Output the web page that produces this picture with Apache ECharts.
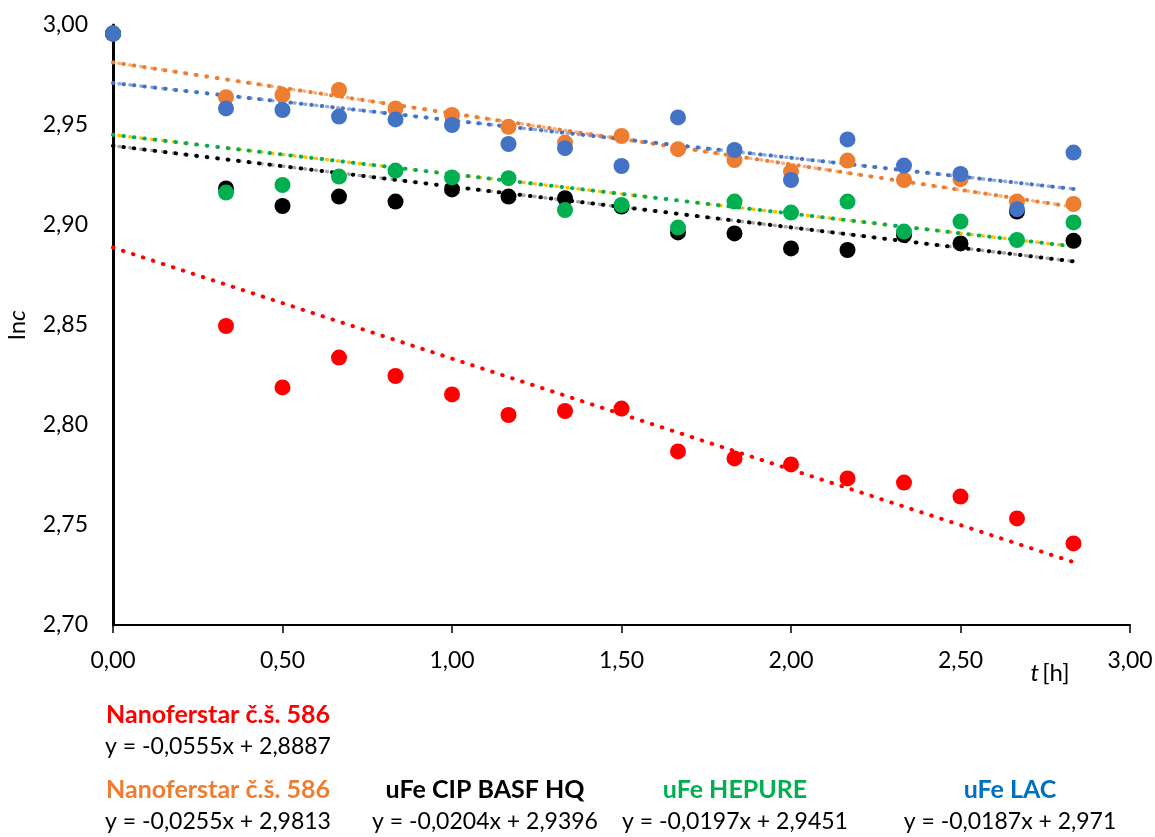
<!DOCTYPE html>
<html>
<head>
<meta charset="utf-8">
<script src="https://cdn.jsdelivr.net/npm/echarts@6/dist/echarts.min.js"></script>
<style>html,body{margin:0;padding:0;background:#fff}#c{width:1155px;height:837px}</style>
</head>
<body>
<div id="c"></div>
<script>
const times = [0, 1/3, 0.5, 2/3, 5/6, 1, 7/6, 4/3, 1.5, 5/3, 11/6, 2, 13/6, 7/3, 2.5, 8/3, 17/6];
const xTicks = ['0,00','0,50','1,00','1,50','2,00','2,50','3,00'];
const yTicks = ['2,70','2,75','2,80','2,85','2,90','2,95','3,00'];

const redVals    = [2.9957, 2.8495, 2.8188, 2.8337, 2.8245, 2.8153, 2.8050, 2.8070, 2.8082, 2.7868, 2.7833, 2.7803, 2.7733, 2.7712, 2.7642, 2.7533, 2.7408];
const orangeVals = [2.9957, 2.9639, 2.9650, 2.9675, 2.9583, 2.9550, 2.9491, 2.9412, 2.9445, 2.9379, 2.9325, 2.9267, 2.9322, 2.9225, 2.9229, 2.9117, 2.9105];
const blackVals  = [2.9957, 2.9183, 2.9095, 2.9142, 2.9117, 2.9178, 2.9142, 2.9134, 2.9092, 2.8963, 2.8958, 2.8883, 2.8875, 2.8950, 2.8908, 2.9067, 2.8921];
const greenVals  = [2.9957, 2.9162, 2.9200, 2.9242, 2.9272, 2.9238, 2.9234, 2.9075, 2.9100, 2.8987, 2.9117, 2.9062, 2.9117, 2.8967, 2.9017, 2.8925, 2.9013];
const blueVals   = [2.9957, 2.9583, 2.9575, 2.9542, 2.9528, 2.9500, 2.9405, 2.9384, 2.9295, 2.9538, 2.9375, 2.9225, 2.9428, 2.9297, 2.9255, 2.9079, 2.9362];

const seriesNames = ['Nanoferstar č.š. 586', 'Nanoferstar č.š. 586', 'uFe CIP BASF HQ', 'uFe HEPURE', 'uFe LAC'];
const slopes      = [-0.0555, -0.0255, -0.0204, -0.0197, -0.0187];
const intercepts  = [2.8887, 2.9813, 2.9396, 2.9451, 2.971];
const eqTexts     = ['y = -0,0555x + 2,8887', 'y = -0,0255x + 2,9813', 'y = -0,0204x + 2,9396', 'y = -0,0197x + 2,9451', 'y = -0,0187x + 2,971'];

const colors = ['#FF0000', '#ED7D31', '#000000', '#00B050', '#4472C4'];
const labelColors = ['#FF0000', '#ED7D31', '#000000', '#00B050', '#0070C0'];
const allVals = [redVals, orangeVals, blackVals, greenVals, blueVals];

const FONT = 'Lato, "Open Sans", sans-serif';

const xEnd = times[times.length - 1];
function trend(i) {
  return [[0, intercepts[i]], [xEnd, intercepts[i] + slopes[i] * xEnd]];
}

const series = [];
const secondary = [null, '#F4B183', '#A6A6A6', '#FFC000', '#8FAADC'];
for (let i = 0; i < 5; i++) {
  if (secondary[i]) {
    series.push({
      type: 'line', data: trend(i), symbol: 'none', silent: true, z: 1,
      lineStyle: { color: secondary[i], width: 3.5, type: [1, 10], dashOffset: 5, cap: 'round' }
    });
  }
  series.push({
    type: 'line', data: trend(i), symbol: 'none', silent: true, z: 2,
    lineStyle: { color: colors[i], width: 4, type: [0.5, 10], cap: 'round' }
  });
}
for (let i = 0; i < 5; i++) {
  series.push({
    type: 'scatter', name: seriesNames[i], z: 3 + i,
    data: times.map((t, k) => [t, allVals[i][k]]),
    symbol: 'circle', symbolSize: 16,
    itemStyle: { color: colors[i], opacity: 1 }
  });
}

const chart = echarts.init(document.getElementById('c'));
const lx = [218, 218, 485, 735, 1010];
const ly = [715, 790, 790, 790, 790];
const graphics = [];
for (let i = 0; i < 5; i++) {
  graphics.push({ type: 'text', x: lx[i], y: ly[i], style: { text: seriesNames[i], fill: labelColors[i], font: 'bold 25px ' + FONT, align: 'center', verticalAlign: 'middle' } });
  graphics.push({ type: 'text', x: lx[i], y: ly[i] + 32, style: { text: eqTexts[i], fill: '#000', font: '23px ' + FONT, align: 'center', verticalAlign: 'middle' } });
}
graphics.push({ type: 'text', x: 1050, y: 673, style: { rich: { i: { fontStyle: 'italic', fontSize: 24, fontFamily: FONT }, n: { fontSize: 24, fontFamily: FONT } }, text: '{i|t} {n|[h]}', fill: '#000', align: 'center', verticalAlign: 'middle' } });

chart.setOption({
  animation: false,
  backgroundColor: '#fff',
  grid: { left: 113, right: 25, top: 25, bottom: 212, containLabel: false, outerBoundsMode: 'none' },
  xAxis: {
    type: 'value', min: 0, max: 3, interval: 0.5,
    axisLine: { onZero: false, lineStyle: { color: '#000', width: 2 } },
    axisTick: { show: true, length: 8, lineStyle: { color: '#000', width: 1.5 } },
    splitLine: { show: false },
    axisLabel: { color: '#000', fontSize: 23, fontFamily: FONT, margin: 24, formatter: (v) => xTicks[Math.round(v / 0.5)] }
  },
  yAxis: {
    type: 'value', min: 2.70, max: 3.00, interval: 0.05,
    name: 'ln{i|c}', nameLocation: 'middle', nameGap: 84, nameRotate: 90,
    nameTextStyle: { color: '#000', fontSize: 24, fontFamily: FONT, rich: { i: { fontStyle: 'italic', fontSize: 24, fontFamily: FONT } } },
    axisLine: { show: true, lineStyle: { color: '#000', width: 3 } },
    axisTick: { show: false },
    splitLine: { show: false },
    axisLabel: { color: '#000', fontSize: 23, fontFamily: FONT, margin: 25, formatter: (v) => yTicks[Math.round((v - 2.70) / 0.05)] }
  },
  graphic: graphics,
  series: series
});
</script>
</body>
</html>
